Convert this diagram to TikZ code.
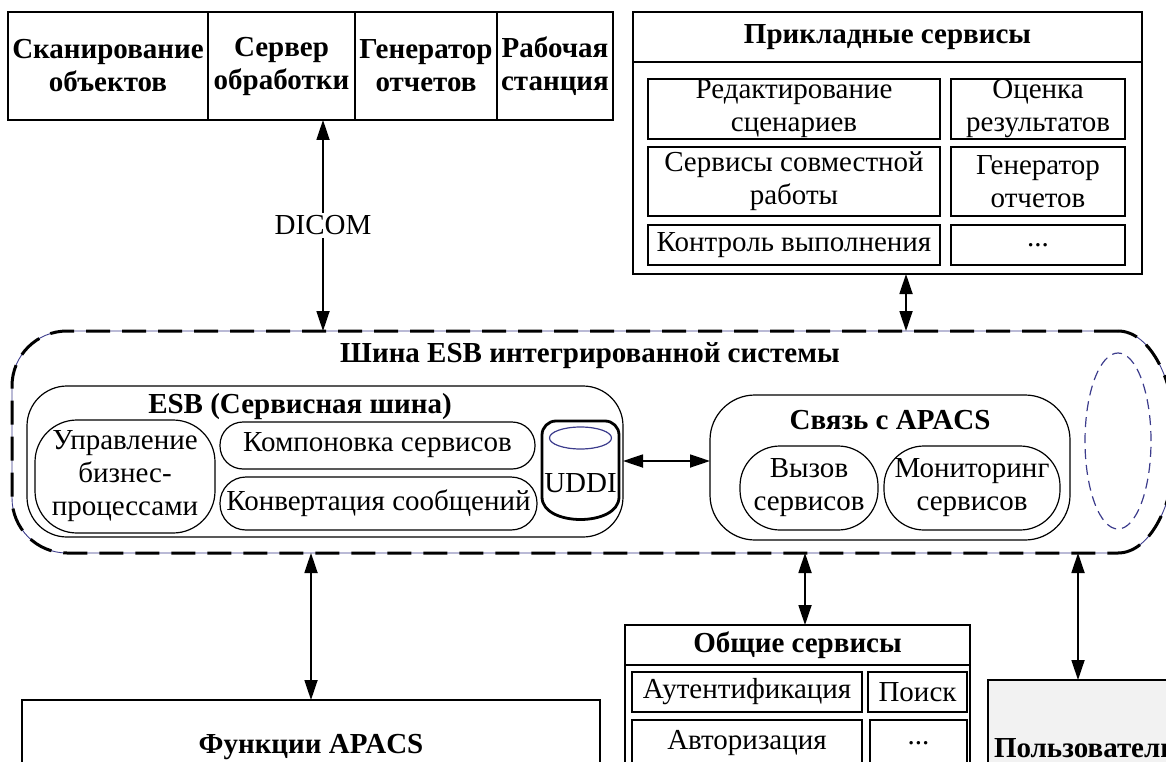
\documentclass[tikz,border=0pt]{standalone}
\usepackage{fontspec}
\setmainfont{Liberation Serif}
\usepackage{xcolor}
\usepackage{tikz}
\usetikzlibrary{arrows.meta,positioning}

\definecolor{busblue}{RGB}{60,60,140}

\begin{document}
\begin{tikzpicture}[
    x=1pt, y=-1pt,
    >={Triangle[length=20pt,width=13pt]},
    every node/.style={align=center, font=\fontsize{29}{33}\selectfont},
    box/.style={
        rectangle,
        draw,
        line width=1.6pt,
        inner sep=0pt,
        outer sep=0pt,
        font=\fontsize{29}{33}\selectfont\bfseries
    },
    cell/.style={
        rectangle,
        draw,
        line width=1.2pt,
        inner sep=0pt,
        outer sep=0pt
    },
    pill/.style={cell, rounded corners=#1},
    title/.style={font=\fontsize{29}{33}\selectfont\bfseries, inner sep=0pt},
    biarrow/.style={<->, line width=1.8pt},
    busline/.style={
        line width=3pt,
        dash pattern=on 24pt off 12pt,
        preaction={draw=busblue, line width=0.9pt, solid}
    }
]
\useasboundingbox (0,0) rectangle (1166,762);

% top row of systems
\node[box, minimum width=200pt, minimum height=108pt, anchor=north west] (scan) at (8,12) {Сканирование\\объектов};
\node[box, minimum width=147pt, minimum height=108pt, right=0pt of scan] (srv) {Сервер\\обработки};
\node[box, minimum width=142pt, minimum height=108pt, right=0pt of srv] (gen) {Генератор\\отчетов};
\node[box, minimum width=116pt, minimum height=108pt, right=0pt of gen] (ws) {Рабочая\\станция};

% application services
\node[box, minimum width=509pt, minimum height=262pt, anchor=north] (appl) at (887.5,12) {};
\draw[line width=1.6pt] ([yshift=-50pt]appl.north west) -- ([yshift=-50pt]appl.north east);
\node[title] (appltitle) at (887.5,37) {Прикладные сервисы};
\node[cell, minimum width=292pt, minimum height=60pt] (edit) at (794,109) {Редактирование\\сценариев};
\node[cell, minimum width=174pt, minimum height=60pt] (eval) at (1038,109) {Оценка\\результатов};
\node[cell, minimum width=292pt, minimum height=69pt] (collab) at (794,181.5) {Сервисы совместной\\работы};
\node[cell, minimum width=174pt, minimum height=69pt] (repgen) at (1038,181.5) {Генератор\\отчетов};
\node[cell, minimum width=292pt, minimum height=40pt] (ctrl) at (794,245) {Контроль выполнения};
\node[cell, minimum width=174pt, minimum height=40pt] (more) at (1038,245) {...};

% integration bus
\node[inner sep=0pt, outer sep=0pt, minimum width=1106pt, minimum height=222pt] (bus) at (565,442) {};
\draw[busline, rounded corners=55pt] (bus.north east) -- (bus.north west) -- (bus.south west) -- (bus.south east);
\draw[busline] (bus.south east) arc[start angle=-90, end angle=90, x radius=58pt, y radius=111pt];
\draw[busblue, line width=1.2pt, dash pattern=on 10pt off 6pt] (1118,441) ellipse[x radius=33pt, y radius=88pt];
\node[title] (bustitle) at (590,356) {Шина ESB интегрированной системы};

% ESB
\node[pill=40pt, minimum width=596pt, minimum height=151pt] (esb) at (325,461.5) {};
\node[title] (esbtitle) at (300,407) {ESB (Сервисная шина)};
\node[pill=42pt, minimum width=180pt, minimum height=113pt] (bpm) at (125,476.5) {Управление\\бизнес-\\процессами};
\node[pill=23pt, minimum width=315pt, minimum height=47pt] (compose) at (377.5,445.5) {Компоновка сервисов};
\node[pill=26pt, minimum width=317pt, minimum height=53pt] (convert) at (378.5,503.5) {Конвертация сообщений};
\node[inner sep=0pt, outer sep=0pt, minimum width=77pt, minimum height=98pt] (uddi) at (580.5,470) {};
\draw[line width=2.8pt, line join=round]
    ([yshift=22pt]uddi.south west) [rounded corners=14pt] -- (uddi.north west) -- (uddi.north east) [sharp corners] -- ([yshift=22pt]uddi.south east)
    .. controls ([yshift=-8pt]uddi.south east) and ([yshift=-8pt]uddi.south west) .. ([yshift=22pt]uddi.south west);
\draw[busblue, line width=1.2pt] ([yshift=-17pt]uddi.north) ellipse[x radius=31pt, y radius=11pt];
\node (uddilbl) at ([yshift=-13pt]uddi.center) {UDDI};

% link with APACS
\node[pill=45pt, minimum width=360pt, minimum height=145pt] (link) at (890,467.5) {};
\node[title] (linktitle) at (890,420) {Связь с APACS};
\node[pill=40pt, minimum width=138pt, minimum height=84pt] (call) at (809,488) {Вызов\\сервисов};
\node[pill=40pt, minimum width=176pt, minimum height=84pt] (monitor) at (972,488) {Мониторинг\\сервисов};
\coordinate (mid) at (666,461);
\draw[biarrow] (esb.east |- mid) -- (link.west |- mid);

% lower blocks
\node[box, minimum width=578pt, minimum height=94pt, anchor=north] (funcs) at (311,700) {Функции APACS};
\node[box, minimum width=345pt, minimum height=175pt, anchor=north] (common) at (797.5,625) {};
\draw[line width=1.6pt] ([yshift=-40pt]common.north west) -- ([yshift=-40pt]common.north east);
\node[title] (commontitle) at (797.5,645) {Общие сервисы};
\node[cell, minimum width=230pt, minimum height=40pt] (auth) at (747,692) {Аутентификация};
\node[cell, minimum width=99pt, minimum height=40pt] (search) at (917.5,692) {Поиск};
\node[cell, minimum width=230pt, minimum height=46pt] (authz) at (747,743) {Авторизация};
\node[cell, minimum width=97pt, minimum height=46pt] (etc) at (918.5,743) {...};
\node[box, fill=gray!10, minimum width=220pt, minimum height=136pt, anchor=north west,
      text width=210pt, align=left] (users) at (988,680) {\hspace*{1pt}Пользователи};

% connectors to the bus
\coordinate (dicomtop) at ([xshift=41.5pt]srv.south);
\draw[biarrow] (dicomtop) -- (dicomtop |- bus.north)
    node[midway, fill=white, inner sep=3pt] (dicom) {DICOM};
\coordinate (appltop) at ([xshift=18.5pt]appl.south);
\draw[biarrow] (appltop) -- (appltop |- bus.north);
\draw[biarrow] (bus.south -| funcs.north) -- (funcs.north);
\coordinate (commontop) at ([xshift=7.5pt]common.north);
\draw[biarrow] (bus.south -| commontop) -- (commontop);
\coordinate (userstop) at ([xshift=90pt]users.north west);
\draw[biarrow] (bus.south -| userstop) -- (userstop);
\end{tikzpicture}
\end{document}
